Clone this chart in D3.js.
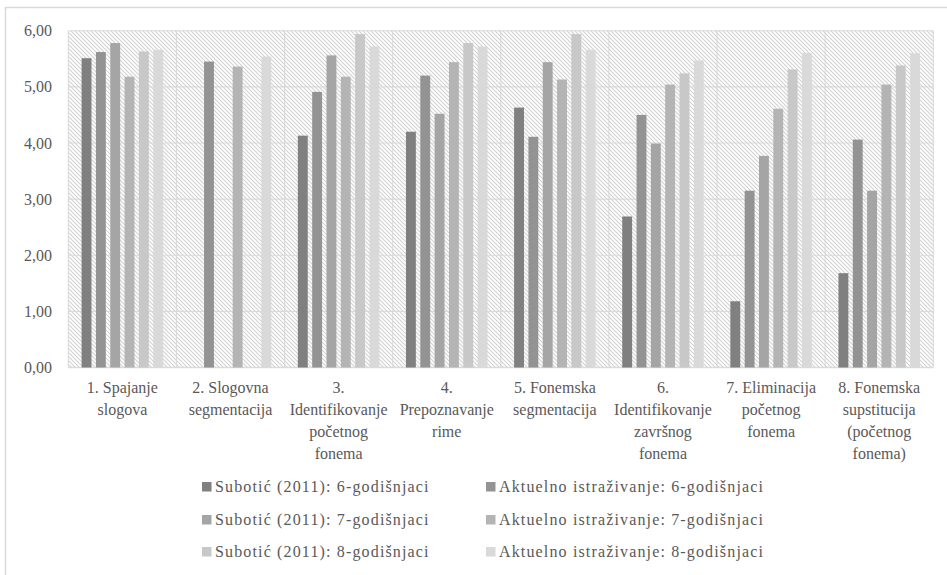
<!DOCTYPE html>
<html>
<head>
<meta charset="utf-8">
<script src="https://cdn.jsdelivr.net/npm/d3@7"></script>
</head>
<body style="margin:0;background:#ffffff">
<svg id="chart" width="947" height="575"></svg>
<script>
// Task categories (each label split into its display lines)
const categories = [
  ["1. Spajanje", "slogova"],
  ["2. Slogovna", "segmentacija"],
  ["3.", "Identifikovanje", "početnog", "fonema"],
  ["4.", "Prepoznavanje", "rime"],
  ["5. Fonemska", "segmentacija"],
  ["6.", "Identifikovanje", "završnog", "fonema"],
  ["7. Eliminacija", "početnog", "fonema"],
  ["8. Fonemska", "supstitucija", "(početnog", "fonema)"]
];

// Series names, in drawing order
const seriesNames = [
  "Subotić (2011): 6-godišnjaci",
  "Aktuelno istraživanje: 6-godišnjaci",
  "Subotić (2011): 7-godišnjaci",
  "Aktuelno istraživanje: 7-godišnjaci",
  "Subotić (2011): 8-godišnjaci",
  "Aktuelno istraživanje: 8-godišnjaci"
];

// Mean scores per task (null = no data for that task)
const subotic6  = [5.51, null, 4.13, 4.20, 4.63, 2.69, 1.18, 1.68];
const aktuelno6 = [5.62, 5.45, 4.91, 5.20, 4.11, 4.50, 3.15, 4.06];
const subotic7  = [5.78, null, 5.56, 4.52, 5.44, 3.99, 3.77, 3.15];
const aktuelno7 = [5.18, 5.36, 5.18, 5.44, 5.13, 5.04, 4.61, 5.04];
const subotic8  = [5.63, null, 5.94, 5.78, 5.94, 5.24, 5.31, 5.38];
const aktuelno8 = [5.66, 5.54, 5.72, 5.72, 5.66, 5.47, 5.60, 5.60];

const yTicks = [0, 1, 2, 3, 4, 5, 6];

const seriesValues = [subotic6, aktuelno6, subotic7, aktuelno7, subotic8, aktuelno8];
const colors = ["#808080", "#939393", "#a5a5a5", "#b4b4b4", "#c8c8c8", "#d9d9d9"];
const FONT = "Liberation Serif";
const TEXT = "#595959";

// apply the serif face to a text selection both as attribute and inline style
function serifText(sel, size) {
  return sel.attr("font-family", FONT).style("font-family", FONT)
    .attr("font-size", size).style("font-size", size + "px")
    .attr("fill", TEXT);
}

const svg = d3.select("#chart");

// outer chart frame
svg.append("rect")
  .attr("x", 5.5).attr("y", 7.5)
  .attr("width", 1000).attr("height", 1000)
  .attr("fill", "none").attr("stroke", "#d9d9d9").attr("stroke-width", 1.5);

const plot = { left: 68.3, right: 933.3, top: 30.7, bottom: 367.5 };

// hatched plot background
const defs = svg.append("defs");
const pat = defs.append("pattern")
  .attr("id", "hatch").attr("patternUnits", "userSpaceOnUse")
  .attr("width", 4).attr("height", 4);
pat.append("rect").attr("width", 4).attr("height", 4).attr("fill", "#ffffff");
pat.append("path").attr("d", "M-1,-1 L5,5 M-1,3 L1,5 M3,-1 L5,1")
  .attr("stroke", "#d2d2d2").attr("stroke-width", 1.1);

const catKeys = categories.map((c, i) => i);
const x0 = d3.scaleBand().domain(catKeys).range([plot.left, plot.right]).padding(0);
const groupPad = 13.3;
const x1 = d3.scaleBand().domain(d3.range(seriesNames.length))
  .range([groupPad, x0.bandwidth() - groupPad]).paddingInner(0.31).paddingOuter(0);
const y = d3.scaleLinear().domain([0, 6]).range([plot.bottom, plot.top]);

svg.append("rect")
  .attr("x", plot.left).attr("y", plot.top)
  .attr("width", plot.right - plot.left).attr("height", plot.bottom - plot.top)
  .attr("fill", "url(#hatch)");

// horizontal gridlines
svg.append("g").selectAll("line").data(yTicks).join("line")
  .attr("x1", plot.left).attr("x2", plot.right)
  .attr("y1", d => y(d)).attr("y2", d => y(d))
  .attr("stroke", "#dadada").attr("stroke-width", d => d === 0 ? 1.6 : 1.1);

// vertical gridlines at category boundaries
const bounds = catKeys.map(k => x0(k)).concat([plot.right]);
svg.append("g").selectAll("line").data(bounds).join("line")
  .attr("x1", d => d).attr("x2", d => d)
  .attr("y1", plot.top).attr("y2", plot.bottom)
  .attr("stroke", "#dadada").attr("stroke-width", 1.1);

// bars
const groups = svg.append("g").selectAll("g").data(catKeys).join("g")
  .attr("transform", d => `translate(${x0(d)},0)`);
groups.selectAll("rect")
  .data(ci => seriesValues.map((vals, si) => ({ si, v: vals[ci] })).filter(d => d.v !== null))
  .join("rect")
  .attr("x", d => x1(d.si))
  .attr("width", x1.bandwidth())
  .attr("y", d => y(d.v))
  .attr("height", d => y(0) - y(d.v))
  .attr("fill", d => colors[d.si]);

// y axis
const yAxis = d3.axisLeft(y).tickValues(yTicks).tickSize(0).tickPadding(0)
  .tickFormat(d => d3.format(".2f")(d).replace(".", ","));
const yg = svg.append("g").attr("transform", "translate(52,0)").call(yAxis);
yg.attr("font-family", FONT).attr("font-size", 16);
yg.select(".domain").remove();
serifText(yg.selectAll("text"), 16);

// x axis with multi-line category labels
const xAxis = d3.axisBottom(x0).tickSize(0).tickFormat(() => "");
const xg = svg.append("g").attr("transform", `translate(0,${plot.bottom})`).call(xAxis);
xg.attr("font-family", FONT).attr("font-size", 16);
xg.select(".domain").remove();
xg.selectAll(".tick").each(function(k) {
  const t = serifText(d3.select(this).select("text"), 16)
    .attr("y", 0).attr("dy", null);
  t.selectAll("tspan").data(categories[k]).join("tspan")
    .attr("x", 0).attr("y", (d, i) => 25 + i * 22.3)
    .text(d => d);
});

// legend: 3 rows x 2 columns
const legendCols = [202, 486];
const legendRows = [492, 525, 557];
const leg = svg.append("g");
seriesNames.forEach((name, i) => {
  const cx = legendCols[i % 2], cy = legendRows[Math.floor(i / 2)];
  leg.append("rect").attr("x", cx).attr("y", cy - 10).attr("width", 9.5).attr("height", 9.5)
    .attr("fill", colors[i]);
  serifText(leg.append("text"), 16)
    .attr("x", cx + 13).attr("y", cy)
    .attr("letter-spacing", 1.15)
    .text(name);
});
</script>
</body>
</html>
